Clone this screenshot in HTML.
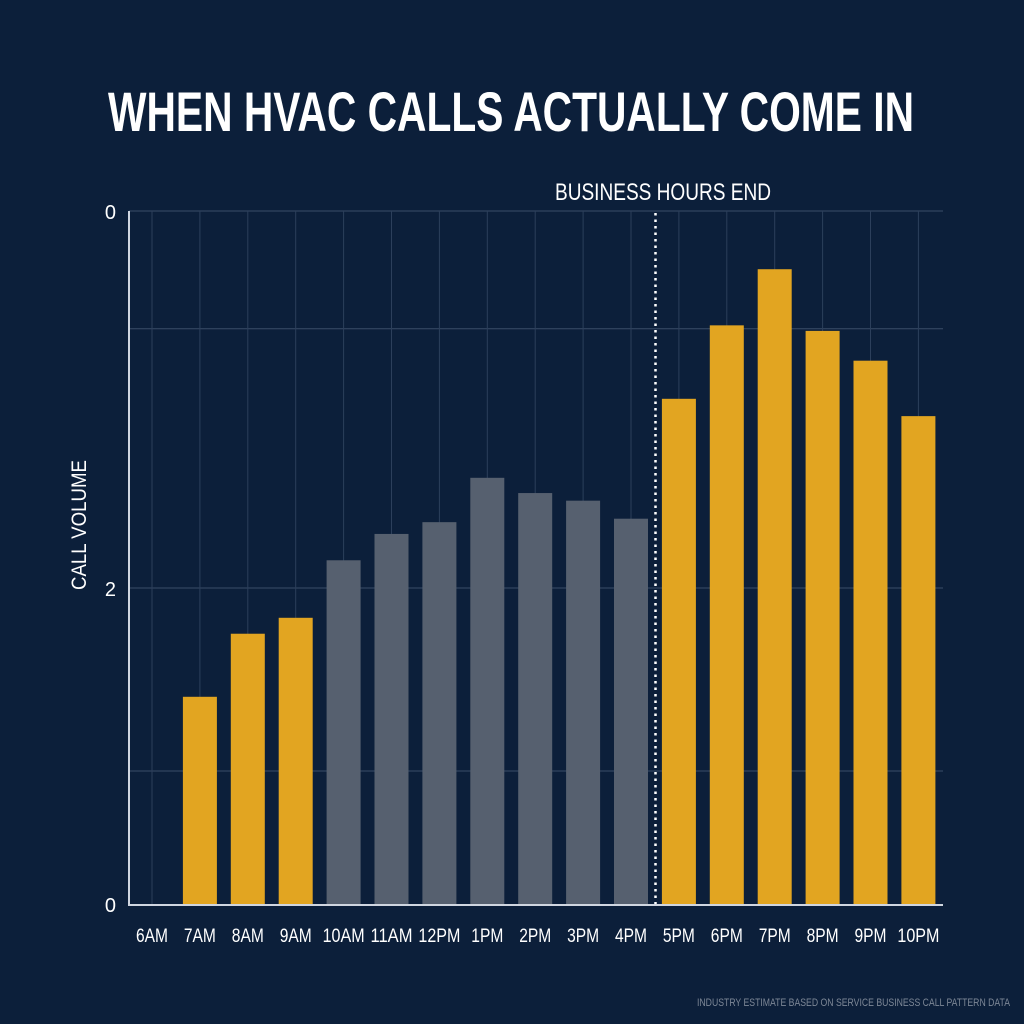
<!DOCTYPE html>
<html><head><meta charset="utf-8"><style>
html,body{margin:0;padding:0;background:#0c1f3a;}
svg{display:block;font-family:"Liberation Sans",sans-serif;}
</style></head><body>
<svg id="chart" width="1024" height="1024" viewBox="0 0 1024 1024">
<rect x="0" y="0" width="1024" height="1024" fill="#0c1f3a"/>
<text x="108" y="131" font-size="56" font-weight="bold" fill="#ffffff" textLength="806" lengthAdjust="spacingAndGlyphs">WHEN HVAC CALLS ACTUALLY COME IN</text>
<g id="grid"></g>
<g id="bars"></g>
<g id="xlabels"></g>
<g id="ylabels"></g>
<line x1="129" y1="211" x2="129" y2="905" stroke="#d0d6e0" stroke-width="2"/>
<line x1="128" y1="905" x2="943" y2="905" stroke="#d0d6e0" stroke-width="2"/>
<line x1="655.5" y1="213" x2="655.5" y2="904" stroke="#ffffff" stroke-width="2.5" stroke-dasharray="2.5,4"/>
<text x="555" y="200" font-size="24" fill="#ffffff" textLength="216" lengthAdjust="spacingAndGlyphs">BUSINESS HOURS END</text>
<text transform="translate(86,590) rotate(-90)" font-size="21" fill="#ffffff" textLength="130" lengthAdjust="spacingAndGlyphs">CALL VOLUME</text>
<text x="697" y="1006" font-size="11" fill="#7d8796" textLength="313" lengthAdjust="spacingAndGlyphs">INDUSTRY ESTIMATE BASED ON SERVICE BUSINESS CALL PATTERN DATA</text>
</svg>
<script>
const categories = ["6AM","7AM","8AM","9AM","10AM","11AM","12PM","1PM","2PM","3PM","4PM","5PM","6PM","7PM","8PM","9PM","10PM"];
const callVolume = [0,29.9,39,41.3,49.6,53.4,55.1,61.5,59.3,58.2,55.6,72.9,83.5,91.6,82.7,78.4,70.4];
const afterHours = [true,true,true,true,false,false,false,false,false,false,false,true,true,true,true,true,true];
const yTickLabels = ["0","2","0"];
const yTickValues = [100,45.6,0];
const gridValues = [100,83,45.6,19.2];

const NS="http://www.w3.org/2000/svg";
const x0=152, step=47.9, barW=34, yBase=904, yTop=211;
function xScale(i){return x0+i*step;}
function yScale(v){return yBase-(yBase-yTop)*v/100;}
function mk(tag,attrs,parent){const e=document.createElementNS(NS,tag);for(const k in attrs)e.setAttribute(k,attrs[k]);parent.appendChild(e);return e;}

const grid=document.getElementById('grid');
gridValues.forEach(v=>{
  const l=mk('line',{x1:129,x2:943,y1:yScale(v),y2:yScale(v),stroke:'#3a4d68','stroke-width':1},grid);
  
  
});
categories.forEach((c,i)=>{
  const l=mk('line',{x1:xScale(i),x2:xScale(i),y1:yTop,y2:yBase,stroke:'#2c3f5b','stroke-width':1},grid);
  
  
});
const bars=document.getElementById('bars');
callVolume.forEach((v,i)=>{
  if(v<=0)return;
  const r=mk('rect',{x:xScale(i)-barW/2,y:yScale(v),width:barW,height:yBase-yScale(v),fill:afterHours[i]?'#e2a521':'#56606f'},bars);
  
  
});
const xl=document.getElementById('xlabels');
categories.forEach((c,i)=>{
  const t=mk('text',{x:xScale(i),y:942,'text-anchor':'middle','font-size':19,fill:'#ffffff',textLength:c.length>3?42:32,lengthAdjust:'spacingAndGlyphs'},xl);
  t.textContent=c;
  
  
});
const yl=document.getElementById('ylabels');
yTickLabels.forEach((s,i)=>{
  const t=mk('text',{x:116,y:yScale(yTickValues[i])+8,'text-anchor':'end','font-size':20,fill:'#ffffff'},yl);
  t.textContent=s;
  
  
});
</script>
</body></html>
